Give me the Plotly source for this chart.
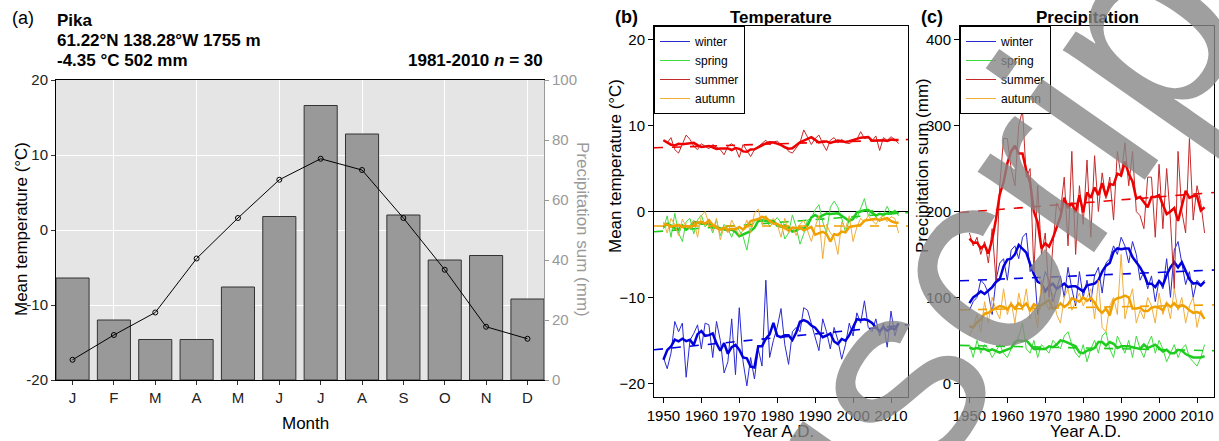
import numpy as np
import plotly.graph_objects as go

W, H = 1219, 441
FONT = "Liberation Sans, Arial, Helvetica, sans-serif"

# ---------------- data ----------------
months = ["J", "F", "M", "A", "M", "J", "J", "A", "S", "O", "N", "D"]
month_num = list(range(1, 13))
clim_temp = [-17.3, -14.0, -11.0, -3.8, 1.6, 6.7, 9.5, 8.0, 1.6, -5.3, -12.9, -14.5]
clim_prec = [34, 20, 13.5, 13.5, 31, 54.5, 91.5, 82, 55, 40, 41.5, 27]

years = list(range(1950, 2013))

temp_winter = [-17.0, -18.3, -16.5, -12.8, -14.0, -13.0, -19.3, -15.0, -14.2, -13.2,
               -16.0, -13.0, -13.2, -17.0, -12.8, -15.0, -18.8, -17.5, -12.5, -19.0,
               -11.2, -17.5, -20.3, -17.0, -19.5, -16.0, -18.0, -8.0, -17.0, -15.0,
               -13.5, -11.3, -15.5, -17.8, -14.0, -13.5, -14.0, -11.2, -11.5, -13.0,
               -14.5, -16.2, -12.5, -14.0, -16.0, -13.5, -15.0, -17.2, -15.5, -13.0,
               -14.5, -11.8, -13.0, -10.4, -13.5, -14.0, -12.5, -14.5, -13.0, -15.8,
               -11.6, -14.5, -13.0]
temp_spring = [-2.0, -0.5, -3.0, -0.2, -2.5, -3.5, -1.2, -0.8, -2.6, -1.0,
               -0.4, -1.8, -1.3, -2.5, -1.0, -2.8, -1.5, -2.0, -3.0, -1.8,
               -2.2, -2.9, -4.5, -2.0, -1.2, -0.8, -1.0, -0.5, -1.8, -1.2,
               -0.7, -1.3, -3.2, -2.5, -0.4, -1.8, -3.8, -2.6, -1.0, -0.8,
               0.2, 0.8, -1.2, -2.5, 0.5, 1.2, 0.5, -0.8, -2.4, -1.0,
               -0.5, -0.8, 0.3, 1.5, -0.5, 0.2, -0.6, -1.2, -0.3, 0.6,
               -0.4, 0.2, -0.5]
temp_summer = [8.3, 8.0, 8.6, 7.2, 6.8, 7.9, 8.9, 8.4, 7.6, 7.2,
               7.9, 7.6, 7.3, 7.8, 7.5, 7.2, 6.6, 7.6, 7.9, 7.4,
               6.3, 7.8, 7.1, 6.4, 7.2, 7.6, 7.9, 8.3, 7.8, 8.1,
               8.2, 7.8, 7.6, 7.0, 6.8, 7.4, 8.0, 9.5, 8.6, 7.8,
               8.5, 8.9, 7.9, 7.1, 8.3, 8.6, 8.0, 8.4, 8.0, 7.9,
               8.2, 8.4, 9.3, 8.5, 8.6, 8.2, 8.8, 7.1, 8.6, 8.3,
               8.7, 8.4, 7.9]
temp_autumn = [-1.2, -2.5, -0.8, -1.5, -2.8, -0.9, -1.8, -2.0, -1.0, -3.0,
               -0.5, 0.0, -1.5, -2.2, -0.8, -3.3, -1.8, -2.5, -1.0, -2.0,
               -2.8, -2.2, -1.0, -2.5, -0.2, 0.3, -1.5, -0.5, -1.2, -0.8,
               -1.5, -3.0, -0.8, -2.5, -1.8, -2.8, -1.5, -1.0, -2.2, -3.5,
               -1.8, -0.5, -5.5, -1.5, -2.5, -3.0, -5.0, -1.2, -2.0, -0.5,
               -3.5, -1.8, -0.8, -1.2, -0.5, -1.0, -1.5, -0.8, -0.5, -1.2,
               -0.6, -0.8, -2.5]

prec_winter = [85, 95, 100, 120, 115, 105, 80, 120, 140, 145,
               120, 155, 160, 145, 170, 175, 130, 140, 80, 110,
               130, 120, 95, 110, 125, 100, 135, 110, 90, 130,
               100, 120, 95, 125, 135, 105, 140, 145, 160, 150,
               170, 160, 140, 165, 150, 120, 130, 110, 125, 95,
               120, 110, 145, 100, 155, 165, 140, 115, 130, 100,
               120, 115, 120]
prec_spring = [45, 30, 50, 35, 45, 40, 30, 38, 45, 35,
               30, 40, 45, 55, 70, 40, 35, 50, 30, 45,
               40, 35, 50, 45, 40, 55, 60, 45, 35, 30,
               45, 25, 40, 50, 35, 55, 60, 40, 30, 55,
               45, 35, 50, 30, 55, 40, 30, 45, 55, 35,
               50, 40, 25, 35, 45, 30, 40, 45, 30, 25,
               20, 30, 45]
prec_summer = [175, 160, 170, 150, 165, 140, 180, 120, 230, 285,
               285, 250, 230, 300, 318, 240, 250, 130, 230, 150,
               175, 100, 160, 210, 200, 240, 160, 270, 150, 230,
               185, 260, 170, 265, 200, 245, 215, 240, 190, 270,
               240, 280, 230, 270, 200, 195, 180, 240, 240, 170,
               255, 180, 250, 190, 110, 270, 200, 175, 285, 190,
               230, 210, 175]
prec_autumn = [55, 65, 80, 60, 95, 70, 100, 85, 75, 110,
               80, 95, 70, 105, 85, 110, 75, 90, 65, 120,
               95, 85, 105, 80, 70, 100, 110, 85, 95, 105,
               90, 100, 110, 75, 120, 65, 60, 90, 100, 80,
               150, 75, 95, 110, 70, 85, 75, 100, 90, 70,
               105, 80, 95, 75, 110, 85, 100, 70, 90, 100,
               65, 85, 75]

seasons = ["winter", "spring", "summer", "autumn"]
temp_series = [temp_winter, temp_spring, temp_summer, temp_autumn]
prec_series = [prec_winter, prec_spring, prec_summer, prec_autumn]

thin_col = ["#2a2ad0", "#3fdc3f", "#c42a2a", "#f0ae3a"]
thick_col = ["#0000dd", "#1ecc1e", "#ee0000", "#f0a000"]

XR = [1950 - 0.04 * 62, 2012 + 0.04 * 62]


def smooth(v, k=5):
    v = np.asarray(v, float)
    h = k // 2
    return [float(v[max(0, i - h):i + h + 1].mean()) for i in range(len(v))]


def trend(x, v, xr):
    a, b = np.polyfit(x, v, 1)
    return [a * xr[0] + b, a * xr[1] + b]


def px(x):
    return x / W


def py(y):
    return 1 - y / H


fig = go.Figure()

# ---------------- panel (a) ----------------
fig.add_trace(go.Bar(x=month_num, y=clim_prec, width=0.8,
                     marker=dict(color="#999999", line=dict(color="#333333", width=1)),
                     xaxis="x", yaxis="y", showlegend=False, hoverinfo="skip"))
fig.add_trace(go.Scatter(x=month_num, y=clim_temp, mode="lines+markers",
                         line=dict(color="black", width=1),
                         marker=dict(symbol="circle-open", size=5, color="black",
                                     line=dict(width=1)),
                         xaxis="x", yaxis="y2", showlegend=False, hoverinfo="skip"))

# ---------------- panels (b) and (c) ----------------
for panel, series, xa, ya, leg in [("b", temp_series, "x2", "y3", "legend"),
                                   ("c", prec_series, "x3", "y4", "legend2")]:
    for i, (name, vals) in enumerate(zip(seasons, series)):
        fig.add_trace(go.Scatter(x=years, y=vals, mode="lines", name=name,
                                 line=dict(color=thin_col[i], width=1),
                                 xaxis=xa, yaxis=ya, legend=leg, showlegend=True))
        fig.add_trace(go.Scatter(x=years, y=smooth(vals), mode="lines",
                                 line=dict(color=thick_col[i], width=2.5),
                                 xaxis=xa, yaxis=ya, showlegend=False))
        fig.add_trace(go.Scatter(x=XR, y=trend(years, vals, XR), mode="lines",
                                 line=dict(color=thick_col[i], width=1.6, dash="dash"),
                                 xaxis=xa, yaxis=ya, showlegend=False))

axis_common = dict(showline=True, linecolor="black", linewidth=1, ticks="outside",
                   ticklen=5, tickcolor="black", showgrid=False, zeroline=False,
                   automargin=False,
                   tickfont=dict(size=15, color="black", family=FONT))

dom_a_y = [py(380), py(80)]
dom_bc_y = [py(397), py(26)]

layout = dict(
    width=W, height=H, autosize=False,
    margin=dict(l=0, r=0, t=0, b=0, pad=0),
    paper_bgcolor="white", plot_bgcolor="white",
    font=dict(family=FONT, color="black"),
    xaxis=dict(domain=[px(56), px(544)], anchor="y", range=[0.6, 12.4],
               tickmode="array", tickvals=month_num, ticktext=months,
               showline=True, linecolor="black", linewidth=1, mirror=True,
               ticks="outside", ticklen=4, tickcolor="#333333", showgrid=False,
               zeroline=False, automargin=False, tickfont=dict(size=15, color="#222222"),
               minor=dict(tickmode="array", tickvals=[2, 4, 6, 8, 10, 12],
                          showgrid=True, gridcolor="white", gridwidth=1.2, ticks="")),
    yaxis=dict(domain=dom_a_y, anchor="x", side="right", range=[0, 100],
               tickmode="array", tickvals=[0, 20, 40, 60, 80, 100],
               showline=True, linecolor="#999999", linewidth=1, ticks="outside",
               ticklen=4, tickcolor="#999999", showgrid=False, zeroline=False,
               automargin=False, tickfont=dict(size=15, color="#999999")),
    yaxis2=dict(overlaying="y", anchor="x", side="left", range=[-20, 20],
                tickmode="array", tickvals=[-20, -10, 0, 10, 20],
                ticktext=["-20", "-10", "0", "10", "20"],
                showline=True, linecolor="black", linewidth=1, ticks="outside",
                ticklen=4, tickcolor="#333333", showgrid=True, gridcolor="white",
                gridwidth=1.2, zeroline=False, automargin=False,
                tickfont=dict(size=15, color="#222222")),
    xaxis2=dict(domain=[px(654), px(908)], anchor="y3", range=XR, mirror=True,
                tickmode="array", tickvals=list(range(1950, 2011, 10)), **axis_common),
    yaxis3=dict(domain=dom_bc_y, anchor="x2", range=[-21.6, 21.6], mirror=True,
                tickmode="array", tickvals=[-20, -10, 0, 10, 20],
                ticktext=["\u221220", "\u221210", "0", "10", "20"],
                **{**axis_common, "zeroline": True},
                zerolinecolor="black", zerolinewidth=1),
    xaxis3=dict(domain=[px(960), px(1214)], anchor="y4", range=XR, mirror=True,
                tickmode="array", tickvals=list(range(1950, 2011, 10)), **axis_common),
    yaxis4=dict(domain=dom_bc_y, anchor="x3", range=[-16, 416], mirror=True,
                tickmode="array", tickvals=[0, 100, 200, 300, 400], **axis_common),
    legend=dict(x=px(654), y=py(26), xanchor="left", yanchor="top",
                bordercolor="black", borderwidth=1, bgcolor="white",
                font=dict(size=12, family=FONT), tracegroupgap=0, itemwidth=30),
    legend2=dict(x=px(960), y=py(26), xanchor="left", yanchor="top",
                 bordercolor="black", borderwidth=1, bgcolor="white",
                 font=dict(size=12, family=FONT), tracegroupgap=0, itemwidth=30),
    shapes=[dict(type="rect", xref="x domain", yref="y domain", x0=0, x1=1, y0=0, y1=1,
                 fillcolor="#e5e5e5", line=dict(width=0), layer="below")],
)
fig.update_layout(**layout)


def ann(text, x, y, size=17, bold=False, xanchor="center", angle=0, color="black"):
    t = f"<b>{text}</b>" if bold else text
    fig.add_annotation(text=t, x=px(x), y=py(y), xref="paper", yref="paper",
                       xanchor=xanchor, yanchor="middle", showarrow=False,
                       textangle=angle, font=dict(size=size, color=color, family=FONT))


# panel (a) header
ann("(a)", 10, 18, size=18, xanchor="left")
ann("Pika", 55, 20, size=17, bold=True, xanchor="left")
ann("61.22°N 138.28°W 1755 m", 55, 40, size=17, bold=True, xanchor="left")
ann("-4.35 °C 502 mm", 55, 61, size=17, bold=True, xanchor="left")
fig.add_annotation(text="<b>1981-2010 <i>n</i> = 30</b>", x=px(545), y=py(61),
                   xref="paper", yref="paper", xanchor="right", yanchor="middle",
                   showarrow=False, font=dict(size=17, family=FONT))
ann("Mean temperature (°C)", 22, 229, size=17, angle=-90)
ann("Precipitation sum (mm)", 582, 229, size=17, angle=90, color="#999999")
ann("Month", 305, 423, size=17)

# panel (b)
ann("(b)", 613, 17, size=18, bold=True, xanchor="left")
ann("Temperature", 781, 17, size=17, bold=True)
ann("Mean temperature (°C)", 615, 166, size=17, angle=-90)
ann("Year A.D.", 778, 431, size=17)

# panel (c)
ann("(c)", 919, 17, size=18, bold=True, xanchor="left")
ann("Precipitation", 1087, 17, size=17, bold=True)
ann("Precipitation sum (mm)", 922, 166, size=17, angle=-90)
ann("Year A.D.", 1085, 431, size=17)

# watermark
fig.add_annotation(text="Manuscript", x=px(846), y=py(446), xref="paper", yref="paper",
                   xanchor="center", yanchor="middle", showarrow=False, textangle=-55,
                   font=dict(size=268, color="rgba(135,135,135,0.8)", family=FONT))

fig.write_html("out.html",
               config={"displayModeBar": False, "responsive": False},
               default_width="1219px", default_height="441px",
               post_script="document.body.style.margin='0';")
